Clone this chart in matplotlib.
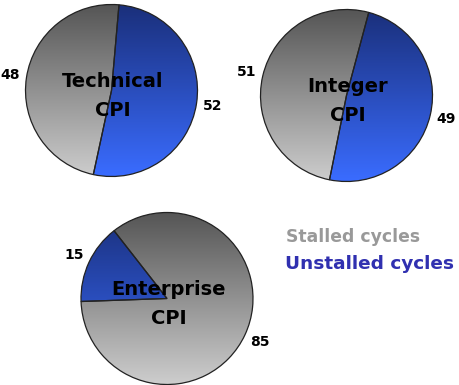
import numpy as np
import matplotlib
matplotlib.use("Agg")
import matplotlib.pyplot as plt
from matplotlib.colors import LinearSegmentedColormap

# values per pie: (unstalled, stalled)
names = ["Technical", "Integer", "Enterprise"]
unstalled = [52, 49, 15]
stalled = [48, 51, 85]
legend_labels = ["Stalled cycles", "Unstalled cycles"]

# layout (pixel coords, y up)
H = 385
centers = [(111.5, H - 90.5), (346.5, H - 95.5), (167, H - 298.5)]
radius = 86
start_angles = [85, 75, -178]

blue_cmap = LinearSegmentedColormap.from_list("blue", ["#3a6cff", "#1a2f7a"])
gray_cmap = LinearSegmentedColormap.from_list("gray", ["#cdcdcd", "#555555"])

fig = plt.figure(figsize=(4.59, 3.85), dpi=100)
ax = fig.add_axes([0, 0, 1, 1])

grad = np.linspace(0, 1, 256).reshape(-1, 1)

for i in range(3):
    cx, cy = centers[i]
    wedges, texts = ax.pie(
        [unstalled[i], stalled[i]],
        labels=[str(unstalled[i]), str(stalled[i])],
        center=(cx, cy), radius=radius, startangle=start_angles[i],
        counterclock=False, labeldistance=1.19,
        wedgeprops=dict(edgecolor="#222222", linewidth=0.9, facecolor="none"),
        textprops=dict(fontsize=10, fontweight="bold", color="black", ha="center"),
    )
    for w, cm in zip(wedges, [blue_cmap, gray_cmap]):
        im = ax.imshow(grad, extent=(cx - radius, cx + radius, cy - radius, cy + radius),
                       cmap=cm, origin="lower", aspect="auto", zorder=0.5)
        im.set_clip_path(w)
    # centre title, two lines
    ax.text(cx + 1.5, cy + 3.5, names[i], ha="center", va="baseline", fontsize=14,
            fontweight="bold", color="black", zorder=3)
    ax.text(cx + 1.5, cy - 25.5, "CPI", ha="center", va="baseline", fontsize=14,
            fontweight="bold", color="black", zorder=3)

ax.text(286, H - 242, legend_labels[0], color="#999999", fontsize=12.4, fontweight="bold",
        va="baseline", ha="left")
ax.text(285, H - 269, legend_labels[1], color="#3030b0", fontsize=13.3, fontweight="bold",
        va="baseline", ha="left")

ax.set_xlim(0, 459)
ax.set_ylim(0, H)
ax.set_aspect("auto")
ax.axis("off")
fig.savefig("out.png", dpi=100)
